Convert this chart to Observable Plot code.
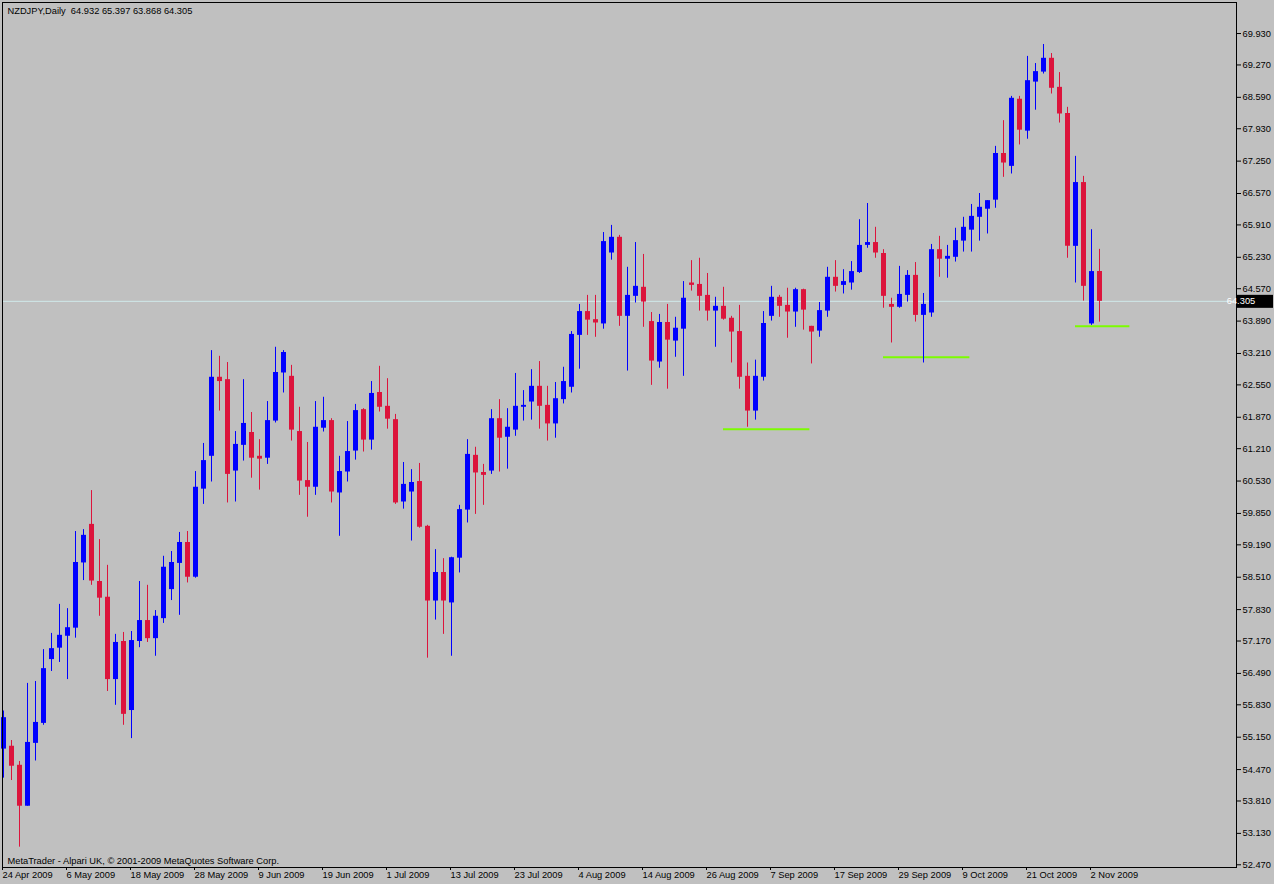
<!DOCTYPE html>
<html><head><meta charset="utf-8">
<script src="https://cdn.jsdelivr.net/npm/d3@7"></script>
<script src="https://cdn.jsdelivr.net/npm/@observablehq/plot@0.6"></script>
<style>html,body{margin:0;padding:0;background:#c0c0c0;overflow:hidden}</style>
</head><body><div id="chart"></div>
<script>
const symbolTitle = "NZDJPY,Daily  64.932 65.397 63.868 64.305";
const copyright = "MetaTrader - Alpari UK, \u00a9 2001-2009 MetaQuotes Software Corp.";
const lastPrice = 64.305;

const dates = [
"2009-04-24","2009-04-27","2009-04-28","2009-04-29","2009-04-30",
"2009-05-01","2009-05-04","2009-05-05","2009-05-06","2009-05-07","2009-05-08","2009-05-11","2009-05-12","2009-05-13","2009-05-14","2009-05-15","2009-05-18","2009-05-19","2009-05-20","2009-05-21","2009-05-22","2009-05-25","2009-05-26","2009-05-27","2009-05-28","2009-05-29",
"2009-06-01","2009-06-02","2009-06-03","2009-06-04","2009-06-05","2009-06-08","2009-06-09","2009-06-10","2009-06-11","2009-06-12","2009-06-15","2009-06-16","2009-06-17","2009-06-18","2009-06-19","2009-06-22","2009-06-23","2009-06-24","2009-06-25","2009-06-26","2009-06-29","2009-06-30",
"2009-07-01","2009-07-02","2009-07-03","2009-07-06","2009-07-07","2009-07-08","2009-07-09","2009-07-10","2009-07-13","2009-07-14","2009-07-15","2009-07-16","2009-07-17","2009-07-20","2009-07-21","2009-07-22","2009-07-23","2009-07-24","2009-07-27","2009-07-28","2009-07-29","2009-07-30","2009-07-31",
"2009-08-03","2009-08-04","2009-08-05","2009-08-06","2009-08-07","2009-08-10","2009-08-11","2009-08-12","2009-08-13","2009-08-14","2009-08-17","2009-08-18","2009-08-19","2009-08-20","2009-08-21","2009-08-24","2009-08-25","2009-08-26","2009-08-27","2009-08-28","2009-08-31",
"2009-09-01","2009-09-02","2009-09-03","2009-09-04","2009-09-07","2009-09-08","2009-09-09","2009-09-10","2009-09-11","2009-09-14","2009-09-15","2009-09-16","2009-09-17","2009-09-18","2009-09-21","2009-09-22","2009-09-23","2009-09-24","2009-09-25","2009-09-28","2009-09-29","2009-09-30",
"2009-10-01","2009-10-02","2009-10-05","2009-10-06","2009-10-07","2009-10-08","2009-10-09","2009-10-12","2009-10-13","2009-10-14","2009-10-15","2009-10-16","2009-10-19","2009-10-20","2009-10-21","2009-10-22","2009-10-23","2009-10-26","2009-10-27","2009-10-28","2009-10-29","2009-10-30",
"2009-11-02","2009-11-03"];

const opens = [
54.90,54.96,54.56,53.70,55.02,55.44,56.78,57.02,57.27,57.44,
58.81,59.62,58.42,58.09,56.36,57.16,55.71,57.16,57.60,57.22,
57.64,58.25,58.80,59.24,58.51,60.36,61.05,62.71,62.66,60.74,
61.28,61.55,61.05,61.01,61.79,62.80,62.73,61.57,60.54,60.40,
61.64,61.80,60.28,60.72,61.16,62.03,61.39,62.39,62.10,61.82,
60.09,60.30,60.52,59.58,58.01,58.61,57.97,58.91,59.92,61.07,
60.71,60.74,61.84,61.45,61.60,62.08,62.19,62.52,62.12,61.73,
62.24,62.50,63.59,64.09,63.92,63.83,65.32,65.65,63.99,64.41,
64.60,63.88,63.03,63.86,63.47,63.72,64.69,64.66,64.43,64.10,
64.20,63.95,63.67,62.73,62.00,62.71,63.99,64.39,64.22,64.08,
64.55,63.78,63.68,64.10,64.81,64.64,64.69,64.91,65.48,65.54,
65.31,64.24,64.18,64.43,64.85,64.01,64.06,65.39,65.19,65.23,
65.57,65.80,66.07,66.24,66.43,67.41,67.14,68.55,67.88,68.91,
69.12,69.41,68.80,68.25,65.46,66.80,63.83,64.932];

const highs = [
55.70,55.08,54.64,56.28,56.32,56.99,57.33,57.94,57.85,59.47,
59.51,60.33,59.30,58.76,57.31,57.35,57.37,58.42,58.34,57.81,
58.95,59.05,59.45,59.47,60.73,61.32,63.27,63.15,63.02,61.57,
62.66,61.97,61.40,62.20,63.34,63.27,62.96,62.08,61.34,62.20,
62.29,61.84,61.05,61.78,62.14,62.05,62.62,62.94,62.68,61.93,
60.92,60.77,60.90,59.60,59.09,58.90,58.93,60.02,61.40,61.24,
60.88,62.03,62.24,62.05,62.79,62.43,62.87,63.04,62.52,62.60,
62.92,63.67,64.24,64.43,64.43,65.75,65.90,65.69,65.02,65.54,
65.29,64.07,64.03,64.24,63.97,64.72,65.16,65.21,64.89,64.39,
64.60,63.99,64.22,63.01,63.07,64.09,64.62,64.43,64.58,64.58,
64.56,63.78,64.28,65.02,65.16,64.97,65.14,66.02,66.36,65.86,
65.39,64.37,65.04,64.95,65.12,64.47,65.50,65.67,65.48,65.84,
66.07,66.34,66.57,66.42,67.56,68.10,68.61,68.61,69.45,69.30,
69.70,69.51,69.11,68.38,67.35,66.93,65.81,65.397];

const lows = [
54.29,54.24,52.84,53.70,54.65,55.40,56.53,56.72,56.36,57.23,
58.44,58.34,57.69,56.11,55.82,55.40,55.12,57.03,57.14,56.85,
57.54,58.02,57.71,58.39,58.49,60.04,60.51,62.00,60.07,60.09,
60.95,60.59,60.34,60.88,61.75,62.38,61.37,60.23,59.77,60.23,
61.56,60.07,59.37,60.51,60.97,61.14,61.18,61.98,61.62,60.04,
59.94,59.27,59.54,56.81,57.61,57.31,56.85,58.60,59.65,59.83,
60.02,60.67,60.72,60.78,61.47,61.79,61.81,61.62,61.37,61.43,
62.15,62.38,62.88,63.59,63.55,63.72,65.17,63.78,62.84,64.27,
63.76,62.54,62.90,62.46,63.13,62.73,64.52,64.10,63.89,63.34,
63.91,63.01,62.46,61.66,61.81,62.63,63.89,63.97,63.53,63.76,
63.70,62.99,63.55,63.97,64.50,64.46,64.54,64.89,65.42,65.21,
64.16,63.43,64.16,64.29,63.87,63.01,63.97,64.81,64.79,65.13,
65.34,65.34,65.57,65.72,66.26,66.91,66.98,67.59,67.71,68.32,
69.08,68.66,68.05,65.21,64.69,64.31,63.80,63.868];

const closes = [
55.56,54.54,53.70,55.04,55.46,56.59,57.01,57.29,57.45,58.82,
59.39,58.43,58.07,56.36,57.14,55.63,57.18,57.60,57.22,57.69,
58.72,58.82,59.24,58.51,60.40,60.96,62.71,62.62,60.67,61.30,
61.74,61.01,60.99,61.80,62.81,63.23,61.60,60.53,60.40,61.66,
61.80,60.30,60.73,61.15,62.01,61.39,62.37,62.08,61.83,60.07,
60.46,60.50,59.56,58.01,58.61,58.01,58.92,59.93,61.09,60.70,
60.65,61.84,61.43,61.66,62.10,62.12,62.52,62.10,61.73,62.26,
62.62,63.61,64.09,63.91,63.85,65.56,65.65,63.99,64.43,64.62,
64.29,63.05,63.86,63.49,63.74,64.37,64.64,64.41,64.10,64.20,
63.93,63.66,62.71,62.00,62.73,63.84,64.39,64.20,64.08,64.55,
64.12,63.66,64.11,64.81,64.62,64.72,64.93,65.48,65.54,65.32,
64.41,64.18,64.45,64.85,64.01,64.24,65.39,65.19,65.25,65.58,
65.86,66.09,66.28,66.42,67.41,67.21,68.57,67.90,68.94,69.13,
69.41,68.78,68.24,65.46,66.80,64.62,64.93,64.305];

// horizontal support lines: start bar, end bar, price
const supportFrom = [90, 110, 134];
const supportTo = [100.8, 120.8, 140.8];
const supportPrice = [61.62, 63.13, 63.78];

const yTickValues = [69.930,69.270,68.590,67.930,67.250,66.570,65.910,65.230,64.570,63.890,63.210,62.550,61.870,61.210,60.530,59.850,59.190,58.510,57.830,57.170,56.490,55.830,55.150,54.470,53.810,53.130,52.470];
const xTickBars = [0,8,16,24,32,40,48,56,64,72,80,88,96,104,112,120,128,136];
const xTickLabels = ["24 Apr 2009","6 May 2009","18 May 2009","28 May 2009","9 Jun 2009","19 Jun 2009","1 Jul 2009","13 Jul 2009","23 Jul 2009","4 Aug 2009","14 Aug 2009","26 Aug 2009","7 Sep 2009","17 Sep 2009","29 Sep 2009","9 Oct 2009","21 Oct 2009","2 Nov 2009"];

const candles = opens.map((o, i) => ({
  bar: i, date: dates[i], open: o, high: highs[i], low: lows[i], close: closes[i],
  dir: closes[i] >= o ? "up" : "down"
}));
const supports = supportPrice.map((p, k) => ({from: supportFrom[k], to: supportTo[k], price: p}));

const FONT = "'Liberation Sans', Arial, sans-serif";

const chart = Plot.plot({
  width: 1274, height: 884,
  marginTop: 2, marginBottom: 17, marginLeft: 2, marginRight: 38,
  style: {background: "#c0c0c0", fontFamily: FONT, fontSize: "9.3px", color: "#000", overflow: "visible"},
  x: {type: "linear", domain: [-0.125, 154.125]},
  y: {domain: [52.413, 70.582]},
  color: {domain: ["up", "down"], range: ["#0000ff", "#dc143c"]},
  marks: [
    Plot.ruleY([lastPrice], {stroke: "#cfe9ea"}),
    Plot.ruleY(supports, {x1: "from", x2: "to", y: "price", stroke: "#7cfc00", strokeWidth: 2}),
    Plot.ruleX(candles, {x: "bar", y1: "low", y2: "high", stroke: "dir", strokeWidth: 1}),
    Plot.ruleX(candles, {x: "bar", y1: "open", y2: "close", stroke: "dir", strokeWidth: 5}),
    Plot.frame({stroke: "#000"}),
    Plot.axisY({anchor: "right", ticks: yTickValues, tickFormat: d3.format(".3f"), tickSize: 4, tickPadding: 2, label: null}),
    Plot.axisX({anchor: "bottom", ticks: xTickBars, tickFormat: d => xTickLabels[xTickBars.indexOf(d)], tickSize: 3, tickPadding: 1, textAnchor: "start", dx: -1, label: null}),
    Plot.text([symbolTitle], {text: d => d, frameAnchor: "top-left", textAnchor: "start", lineAnchor: "top", dx: 5, dy: 5, fill: "#000"}),
    Plot.text([copyright], {text: d => d, frameAnchor: "bottom-left", textAnchor: "start", lineAnchor: "bottom", dx: 5, dy: -4, fill: "#000"})
  ]
});

const yy = chart.scale("y").apply(lastPrice);
const svg = d3.select(chart);
const tag = svg.append("g");
tag.append("rect").attr("x", 1237).attr("y", yy - 6).attr("width", 36).attr("height", 13).attr("fill", "#000");
tag.append("text").attr("x", 1241).attr("y", yy + 0.5).attr("dy", "0.32em").attr("fill", "#ffffff")
  .style("font-family", FONT).style("font-size", "9.3px").text(d3.format(".3f")(lastPrice));

document.getElementById("chart").appendChild(chart);
</script>
</body></html>
